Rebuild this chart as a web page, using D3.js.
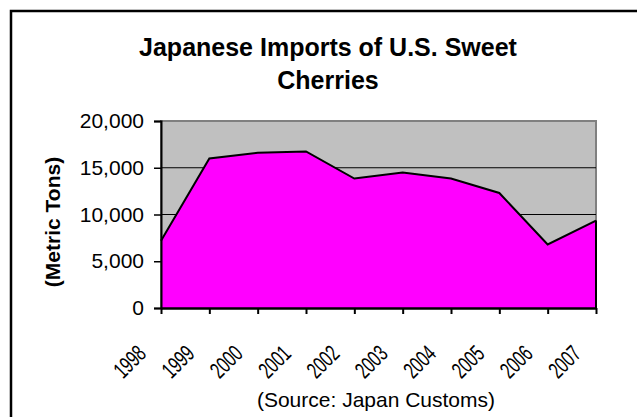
<!DOCTYPE html>
<html>
<head>
<meta charset="utf-8">
<script src="https://cdn.jsdelivr.net/npm/d3@7"></script>
<style>
  html, body { margin: 0; padding: 0; background: #fff; }
  svg { display: block; font-family: "Liberation Sans", Arial, sans-serif; }
</style>
</head>
<body>
<svg id="chart" width="637" height="417"></svg>
<script>
const years = ["1998","1999","2000","2001","2002","2003","2004","2005","2006","2007"];
const imports = [7200, 16000, 16600, 16750, 13850, 14500, 13850, 12300, 6800, 9350];
const yTicks = [0, 5000, 10000, 15000, 20000];
const titleLines = ["Japanese Imports of U.S. Sweet", "Cherries"];
const yAxisTitle = "(Metric Tons)";
const sourceNote = "(Source: Japan Customs)";

const svg = d3.select("#chart");
const W = 637, H = 417;
const plot = { left: 161, right: 596, top: 121, bottom: 308 };

// outer border
svg.append("rect").attr("x", 11).attr("y", 11).attr("width", W).attr("height", H)
  .attr("fill", "#fff").attr("stroke", "#000").attr("stroke-width", 2.5);

const x = d3.scalePoint().domain(years).range([plot.left, plot.right]);
const y = d3.scaleLinear().domain([0, 20000]).range([plot.bottom, plot.top]);

// plot background
svg.append("rect").attr("x", plot.left).attr("y", plot.top)
  .attr("width", plot.right - plot.left).attr("height", plot.bottom - plot.top)
  .attr("fill", "#C0C0C0").attr("stroke", "#808080").attr("stroke-width", 2);

// gridlines
svg.append("g").selectAll("line").data(yTicks.filter(d => d > 0 && d < 20000)).join("line")
  .attr("x1", plot.left).attr("x2", plot.right)
  .attr("y1", d => y(d)).attr("y2", d => y(d))
  .attr("stroke", "#000").attr("stroke-width", 1.2);

// area
const data = years.map((yr, i) => ({ yr, v: imports[i] }));
svg.append("path").datum(data)
  .attr("d", d3.area().x(d => x(d.yr)).y0(y(0)).y1(d => y(d.v)))
  .attr("fill", "#FF00FF");
svg.append("path").datum(data)
  .attr("d", d3.line().x(d => x(d.yr)).y(d => y(d.v)))
  .attr("fill", "none").attr("stroke", "#000").attr("stroke-width", 2);
svg.append("line").attr("x1", plot.right).attr("x2", plot.right)
  .attr("y1", y(imports[imports.length - 1])).attr("y2", plot.bottom)
  .attr("stroke", "#000").attr("stroke-width", 2);

// y axis
const yAxis = svg.append("g").attr("transform", `translate(${plot.left},0)`)
  .call(d3.axisLeft(y).tickValues(yTicks).tickSize(7).tickPadding(10)
    .tickFormat(d3.format(",")));
yAxis.select(".domain").attr("stroke", "#000").attr("stroke-width", 2);
yAxis.selectAll(".tick line").attr("stroke", "#000").attr("stroke-width", 1.5);
yAxis.selectAll(".tick text").attr("font-size", 21).attr("fill", "#000")
  .attr("font-family", "Liberation Sans, Arial, sans-serif");

// x axis
const xAxis = svg.append("g").attr("transform", `translate(0,${plot.bottom})`)
  .call(d3.axisBottom(x).tickSize(6).tickSizeOuter(0));
xAxis.select(".domain").attr("stroke", "#000").attr("stroke-width", 2.5);
xAxis.selectAll(".tick line").attr("stroke", "#000").attr("stroke-width", 2);
xAxis.selectAll(".tick text")
  .attr("font-size", 23).attr("fill", "#000")
  .attr("font-family", "Liberation Sans, Arial, sans-serif")
  .attr("text-anchor", "end").attr("dy", null).attr("y", null)
  .attr("transform", "translate(-14,47) rotate(-45) scale(0.68,1)");

// title
svg.append("text").attr("x", 328).attr("text-anchor", "middle")
  .attr("font-size", 25).attr("font-weight", "bold").attr("fill", "#000")
  .selectAll("tspan").data(titleLines).join("tspan")
  .attr("x", 328).attr("y", (d, i) => 56 + i * 33).text(d => d);

// y axis title
svg.append("text")
  .attr("transform", "translate(52,222) rotate(-90)")
  .attr("text-anchor", "middle").attr("dominant-baseline", "central")
  .attr("font-size", 21).attr("font-weight", "bold").attr("fill", "#000")
  .text(yAxisTitle);

// source
svg.append("text").attr("x", 376).attr("y", 407).attr("text-anchor", "middle")
  .attr("font-size", 21).attr("fill", "#000").text(sourceNote);
</script>
</body>
</html>
